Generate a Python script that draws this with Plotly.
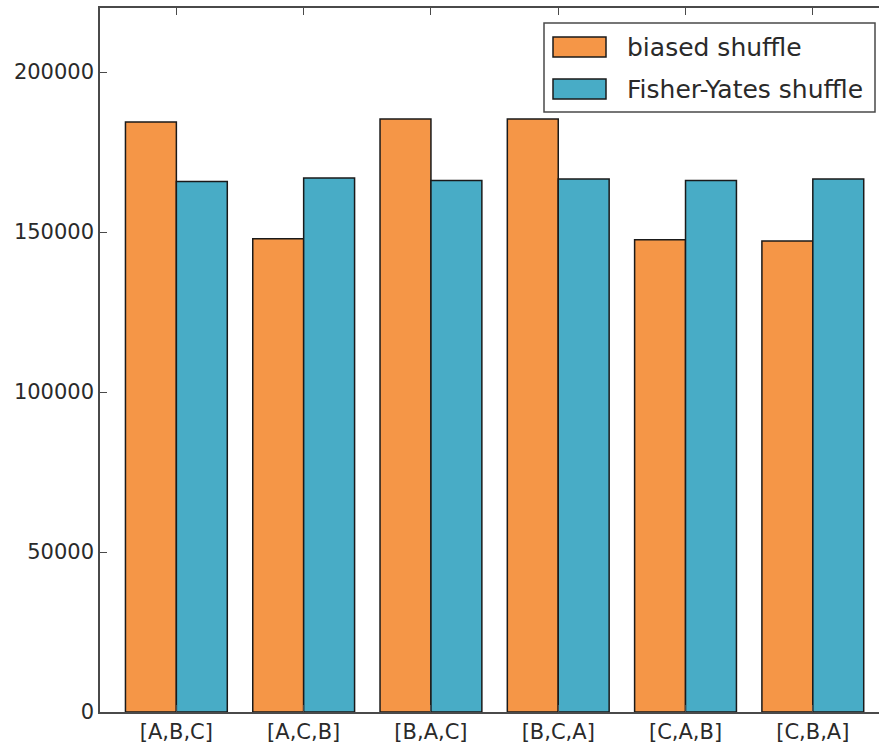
import plotly.graph_objects as go

# Permutation counts from one million shuffles of [A,B,C]
permutations = ["[A,B,C]", "[A,C,B]", "[B,A,C]", "[B,C,A]", "[C,A,B]", "[C,B,A]"]
series_names = ["biased shuffle", "Fisher-Yates shuffle"]
biased_counts = [184400, 147900, 185300, 185300, 147600, 147200]
fisher_yates_counts = [165800, 166900, 166100, 166600, 166100, 166600]

orange = "#F59647"
blue = "#48ACC6"
edge = "#1a1a1a"
axis_color = "#4a4a4a"
text_color = "#2a2a2a"
font_family = "DejaVu Sans, Verdana, sans-serif"

# plot area in pixels (used to place the legend box in paper units)
W, H = 879, 747
ML, MR, MT, MB = 100, 0, 8, 35
PW, PH = W - ML - MR, H - MT - MB


def px_x(px):
    return (px - ML) / PW


def px_y(py):
    return (H - MB - py) / PH


fig = go.Figure()
for name, counts, color in zip(series_names,
                               [biased_counts, fisher_yates_counts],
                               [orange, blue]):
    fig.add_trace(go.Bar(
        x=permutations, y=counts, name=name, showlegend=False,
        marker=dict(color=color, line=dict(color=edge, width=1.5)),
    ))

# legend: framed box with wide rectangular swatches
shapes = [dict(
    type="rect", xref="paper", yref="paper",
    x0=px_x(544), x1=px_x(875), y0=px_y(112), y1=px_y(23),
    fillcolor="white", line=dict(color=axis_color, width=1.5), layer="above",
)]
annotations = []
for i, (name, color) in enumerate(zip(series_names, [orange, blue])):
    top = 37 + i * 42
    shapes.append(dict(
        type="rect", xref="paper", yref="paper",
        x0=px_x(553), x1=px_x(606), y0=px_y(top + 20), y1=px_y(top),
        fillcolor=color, line=dict(color=edge, width=1.5), layer="above",
    ))
    annotations.append(dict(
        text=name, xref="paper", yref="paper",
        x=px_x(625), y=px_y(top + 10), xanchor="left", yanchor="middle",
        showarrow=False, font=dict(size=25, color=text_color),
    ))

fig.update_layout(
    width=W, height=H,
    margin=dict(l=ML, r=MR, t=MT, b=MB),
    paper_bgcolor="white", plot_bgcolor="white",
    barmode="group", bargap=0.2, bargroupgap=0.0,
    font=dict(family=font_family, size=21, color=text_color),
    showlegend=False,
    shapes=shapes, annotations=annotations,
    xaxis=dict(
        range=[-0.6, 5.52],
        showline=True, linecolor=axis_color, linewidth=1.5,
        mirror="ticks", ticks="inside", ticklen=7, tickcolor=axis_color,
        tickwidth=1.2, showgrid=False, tickfont=dict(size=21),
    ),
    yaxis=dict(
        range=[0, 220000], tickmode="linear", tick0=0, dtick=50000,
        tickformat="d",
        showline=True, linecolor=axis_color, linewidth=1.5,
        ticks="inside", ticklen=7, tickcolor=axis_color, tickwidth=1.2,
        showgrid=False, zeroline=False, tickfont=dict(size=21),
    ),
)

fig.write_html("out.html")
